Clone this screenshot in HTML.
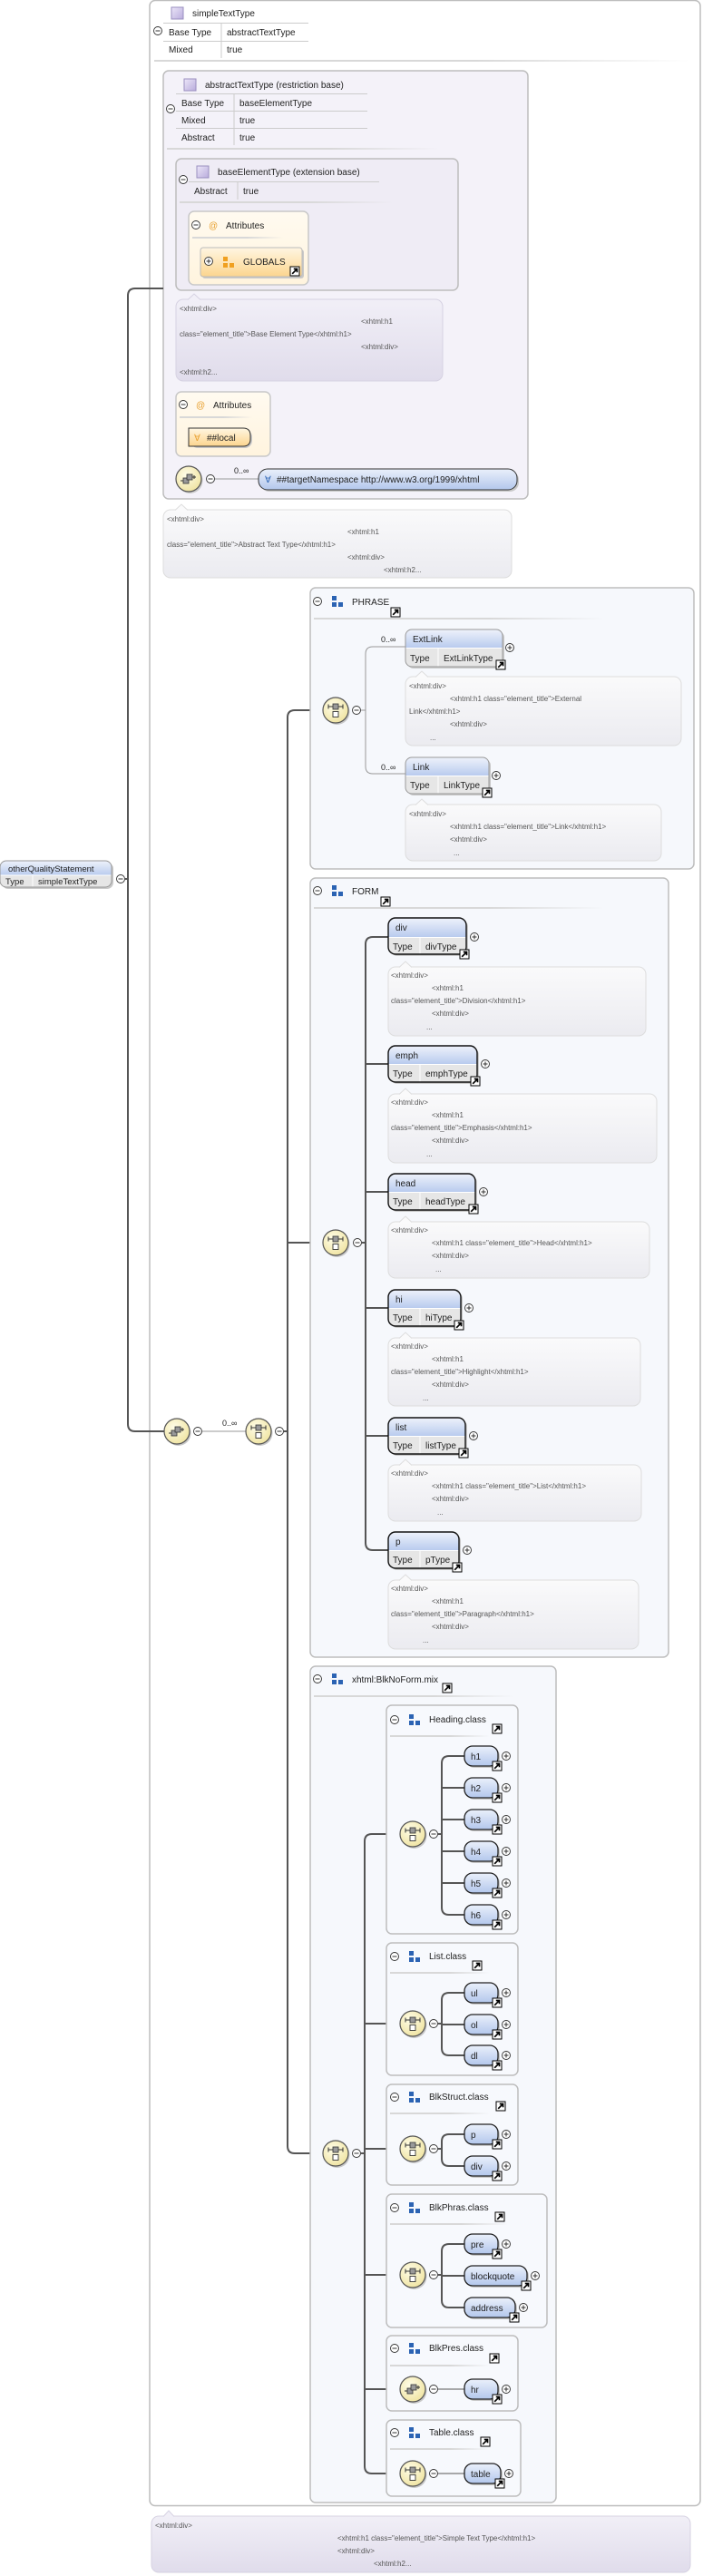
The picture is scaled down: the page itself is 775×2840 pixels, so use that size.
<!DOCTYPE html>
<html><head><meta charset="utf-8"><style>html,body{margin:0;padding:0;background:#fff}svg{display:block}</style></head>
<body>
<svg xmlns="http://www.w3.org/2000/svg" width="775" height="2840" viewBox="0 0 775 2840" font-family="Liberation Sans, Arial, sans-serif" font-size="10" fill="#222">
<defs>
<linearGradient id="hd" x1="0" y1="0" x2="0" y2="1"><stop offset="0" stop-color="#eef2fb"/><stop offset="1" stop-color="#b9cbee"/></linearGradient>
<linearGradient id="hs" x1="0" y1="0" x2="0" y2="1"><stop offset="0" stop-color="#eaf0fb"/><stop offset="1" stop-color="#b3c7ec"/></linearGradient>
<linearGradient id="org" x1="0" y1="0" x2="0" y2="1"><stop offset="0" stop-color="#fff6e2"/><stop offset="1" stop-color="#fcd58e"/></linearGradient>
<linearGradient id="atb" x1="0" y1="0" x2="0" y2="1"><stop offset="0" stop-color="#fffaf0"/><stop offset="1" stop-color="#fff4de"/></linearGradient>
<linearGradient id="doc" x1="0" y1="0" x2="0" y2="1"><stop offset="0" stop-color="#fafafb"/><stop offset="1" stop-color="#ebebf0"/></linearGradient>
<linearGradient id="docL" x1="0" y1="0" x2="0" y2="1"><stop offset="0" stop-color="#f1eff7"/><stop offset="1" stop-color="#e0dceb"/></linearGradient>
<linearGradient id="pur" x1="0" y1="0" x2="1" y2="1"><stop offset="0" stop-color="#ece6f8"/><stop offset="1" stop-color="#b9acdc"/></linearGradient>
<radialGradient id="cir" cx="0.4" cy="0.35" r="0.7"><stop offset="0" stop-color="#fffde8"/><stop offset="1" stop-color="#efe3a0"/></radialGradient>
<linearGradient id="sep" x1="0" y1="0" x2="1" y2="0"><stop offset="0" stop-color="#d8d8d8"/><stop offset="0.6" stop-color="#d8d8d8"/><stop offset="1" stop-color="#d8d8d8" stop-opacity="0"/></linearGradient>
<g id="mi"><circle r="4.5" fill="#fff" stroke="#333" stroke-width="0.9"/><path d="M-2.5,0H2.5" stroke="#333"/></g>
<g id="pl"><circle r="4.5" fill="#fff" stroke="#333" stroke-width="0.9"/><path d="M-2.5,0H2.5M0,-2.5V2.5" stroke="#333"/></g>
<g id="lk"><rect width="10" height="10" fill="#fff" stroke="#000"/><path d="M2.2,7.8L7.3,2.7M3.8,2.5H7.5V6.2" stroke="#000" stroke-width="1.7" fill="none"/></g>
<g id="sq"><circle cx="1.5" cy="2" r="14" fill="#c8c8c8"/><circle r="14" fill="url(#cir)" stroke="#555" stroke-width="1.2"/><path d="M-8,-4H8M-8,-6.5V-1.5M8,-6.5V-1.5" stroke="#333" fill="none"/><rect x="-3" y="-7" width="6" height="6" fill="#999" stroke="#333" stroke-width="0.8"/><rect x="-3" y="1.5" width="6" height="6" fill="#fff" stroke="#333" stroke-width="0.9"/></g>
<g id="an"><circle cx="1.5" cy="2" r="14" fill="#c8c8c8"/><circle r="14" fill="url(#cir)" stroke="#555" stroke-width="1.2"/><rect x="-6" y="-1" width="6" height="6" fill="#999" stroke="#333" stroke-width="0.8"/><rect x="-2" y="-5" width="6" height="6" fill="#999" stroke="#333" stroke-width="0.8"/><path d="M-9,2H-6M4,-2H8M6,-4V0" stroke="#333"/></g>
<g id="gi"><rect x="0" y="0" width="5" height="5" fill="#2b63b3"/><rect x="0" y="7" width="5" height="5" fill="#2b63b3"/><rect x="7" y="7" width="5" height="5" fill="#2b63b3"/></g>
<g id="go"><rect x="0" y="0" width="5" height="5" fill="#f0a020"/><rect x="0" y="7" width="5" height="5" fill="#f0a020"/><rect x="7" y="7" width="5" height="5" fill="#f0a020"/></g>
<g id="ti"><rect width="13" height="13" fill="url(#pur)" stroke="#9a8fc0"/></g>
</defs>

<!-- outer box -->
<rect x="165" y="0.5" width="607" height="2762" rx="6" fill="#fff" stroke="#bdbdbd" stroke-width="1.5"/>

<!-- simpleTextType header -->
<use href="#ti" x="189" y="8"/>
<text x="212" y="18">simpleTextType</text>
<use href="#mi" x="174" y="34"/>
<path d="M180,25.5H340M180,45.5H340M244,25V64" stroke="#ccc" fill="none"/>
<text x="186" y="39">Base Type</text><text x="250" y="39">abstractTextType</text>
<text x="186" y="58">Mixed</text><text x="250" y="58">true</text>
<rect x="170" y="66" width="590" height="2" fill="url(#sep)"/>

<!-- abstract box -->
<rect x="180" y="78" width="402" height="472" rx="6" fill="#f4f2f9" stroke="#bdbdbd" stroke-width="1.5"/>
<use href="#ti" x="203" y="87"/>
<text x="226" y="97">abstractTextType (restriction base)</text>
<use href="#mi" x="188" y="120"/>
<path d="M194,103.5H405M194,122.5H405M194,141.5H405M258,103V160" stroke="#ccc" fill="none"/>
<text x="200" y="117">Base Type</text><text x="264" y="117">baseElementType</text>
<text x="200" y="136">Mixed</text><text x="264" y="136">true</text>
<text x="200" y="155">Abstract</text><text x="264" y="155">true</text>
<rect x="184" y="163" width="300" height="2" fill="url(#sep)"/>

<!-- baseElementType box -->
<rect x="194" y="175" width="311" height="145" rx="6" fill="#efecf5" stroke="#bdbdbd" stroke-width="1.5"/>
<use href="#ti" x="217" y="183"/>
<text x="240" y="193">baseElementType (extension base)</text>
<use href="#mi" x="202" y="198"/>
<path d="M208,200.5H418M262,200V220" stroke="#ccc" fill="none"/>
<text x="214" y="214">Abstract</text><text x="268" y="214">true</text>
<rect x="198" y="222" width="235" height="2" fill="url(#sep)"/>

<rect x="208" y="233" width="132" height="81" rx="6" fill="url(#atb)" stroke="#c8c8c8" stroke-width="1.5"/>
<use href="#mi" x="216" y="248"/>
<text x="230" y="252" fill="#e8a030">@</text>
<text x="249" y="252">Attributes</text>
<rect x="212" y="261" width="100" height="2" fill="url(#sep)"/>
<rect x="223" y="275" width="112" height="32" rx="3" fill="#c8c8c8"/>
<rect x="221" y="273" width="112" height="32" rx="3" fill="url(#org)" stroke="#bbb"/>
<use href="#pl" x="230" y="288"/>
<use href="#go" x="246" y="283"/>
<text x="268" y="292">GLOBALS</text>
<use href="#lk" x="320" y="294"/>

<!-- doc 1 -->
<rect x="194" y="330" width="294" height="90" rx="8" fill="url(#docL)" stroke="#d6d2e2"/>
<path d="M207,330.5L214,324L221,330.5" fill="#f1eff7" stroke="#d6d2e2"/>
<g font-size="8" fill="#555">
<text x="198" y="343">&lt;xhtml:div&gt;</text>
<text x="398" y="357">&lt;xhtml:h1</text>
<text x="198" y="371">class="element_title"&gt;Base Element Type&lt;/xhtml:h1&gt;</text>
<text x="398" y="385">&lt;xhtml:div&gt;</text>
<text x="198" y="413">&lt;xhtml:h2...</text>
</g>

<!-- attributes 2 -->
<rect x="194" y="432" width="104" height="71" rx="6" fill="url(#atb)" stroke="#c8c8c8" stroke-width="1.5"/>
<use href="#mi" x="202" y="446"/>
<text x="216" y="450" fill="#e8a030">@</text>
<text x="235" y="450">Attributes</text>
<rect x="198" y="459" width="80" height="2" fill="url(#sep)"/>
<rect x="210" y="474" width="68" height="20" rx="8" fill="#c8c8c8"/>
<path d="M208,472H268Q276,472 276,480V484Q276,492 268,492H208Z" fill="url(#org)" stroke="#333"/>
<text x="214" y="486" fill="#e8a030">∀</text>
<text x="228" y="486">##local</text>

<!-- any ns -->
<use href="#an" x="208" y="528"/>
<use href="#mi" x="232" y="528"/>
<path d="M237,528H285" stroke="#999"/>
<text x="258" y="522" font-size="9">0..∞</text>
<rect x="287" y="519" width="285" height="23" rx="10" fill="#c8c8c8"/>
<rect x="285" y="517" width="285" height="23" rx="10" fill="url(#hs)" stroke="#333"/>
<text x="292" y="532" fill="#2b63b3">∀</text>
<text x="305" y="532">##targetNamespace http://www.w3.org/1999/xhtml</text>

<!-- doc 2 -->
<rect x="180" y="562" width="384" height="75" rx="8" fill="url(#doc)" stroke="#ddd"/>
<path d="M193,562.5L200,556L207,562.5" fill="#fafafb" stroke="#ddd"/>
<g font-size="8" fill="#555">
<text x="184" y="575">&lt;xhtml:div&gt;</text>
<text x="383" y="589">&lt;xhtml:h1</text>
<text x="184" y="603">class="element_title"&gt;Abstract Text Type&lt;/xhtml:h1&gt;</text>
<text x="383" y="617">&lt;xhtml:div&gt;</text>
<text x="423" y="631">&lt;xhtml:h2...</text>
</g>

<!-- left connectors -->
<path d="M138,969H141M180,318H149Q141,318 141,326V1570Q141,1578 149,1578H181" stroke="#555" stroke-width="2" fill="none"/>
<path d="M356,783H325Q317,783 317,791V2366Q317,2374 325,2374H356M317,1370H356M313,1578H317" stroke="#555" stroke-width="2" fill="none"/>

<!-- otherQualityStatement -->
<rect x="2" y="951" width="123" height="29" rx="7" fill="#c8c8c8"/>
<rect x="0" y="949" width="123" height="29" rx="7" fill="#e6e6e6"/>
<path d="M0,965V956Q0,949 7,949H116Q123,949 123,956V965Z" fill="url(#hd)"/>
<path d="M0,965H123M36,965V978" stroke="#fff"/>
<rect x="0" y="949" width="123" height="29" rx="7" fill="none" stroke="#999"/>
<text x="9" y="961" font-size="9.5">otherQualityStatement</text>
<text x="6" y="975" font-size="9.5">Type</text><text x="42" y="975" font-size="9.5">simpleTextType</text>
<use href="#mi" x="133" y="969"/>

<!-- any + seq -->
<use href="#an" x="195" y="1578"/>
<use href="#mi" x="218" y="1578"/>
<path d="M223,1578H271" stroke="#999"/>
<text x="245" y="1572" font-size="9">0..∞</text>
<use href="#sq" x="285" y="1578"/>
<use href="#mi" x="308" y="1578"/>

<!-- PHRASE -->
<rect x="342" y="648" width="423" height="310" rx="6" fill="#f6f8fc" stroke="#bdbdbd" stroke-width="1.5"/>
<use href="#mi" x="350" y="663"/>
<use href="#gi" x="366" y="657"/>
<text x="388" y="667">PHRASE</text>
<use href="#lk" x="431" y="670"/>
<rect x="346" y="681" width="320" height="2" fill="url(#sep)"/>
<use href="#sq" x="370" y="783"/>
<use href="#mi" x="393" y="783"/>
<path d="M398,783H403M447,713H411Q403,713 403,721V845Q403,853 411,853H447" stroke="#999" fill="none"/>
<text x="420" y="708" font-size="9">0..∞</text>
<text x="420" y="849" font-size="9">0..∞</text>

<!-- ExtLink -->
<rect x="449" y="696" width="107" height="41" rx="7" fill="#c8c8c8"/>
<rect x="447" y="694" width="107" height="41" rx="7" fill="#e6e6e6"/>
<path d="M447,714V701Q447,694 454,694H547Q554,694 554,701V714Z" fill="url(#hd)"/>
<path d="M447,714.5H554M483,714V735" stroke="#fff"/>
<rect x="447" y="694" width="107" height="41" rx="7" fill="none" stroke="#999"/>
<text x="455" y="708">ExtLink</text><text x="452" y="729">Type</text><text x="489" y="729">ExtLinkType</text>
<use href="#pl" x="562" y="714"/><use href="#lk" x="547" y="728"/>
<rect x="447" y="746" width="304" height="76" rx="8" fill="url(#doc)" stroke="#ddd"/>
<path d="M458,746.5L465,740L472,746.5" fill="#fafafb" stroke="#ddd"/>
<g font-size="8" fill="#555">
<text x="451" y="759">&lt;xhtml:div&gt;</text>
<text x="496" y="773">&lt;xhtml:h1 class="element_title"&gt;External</text>
<text x="451" y="787">Link&lt;/xhtml:h1&gt;</text>
<text x="496" y="801">&lt;xhtml:div&gt;</text>
<text x="474" y="816">...</text>
</g>

<!-- Link -->
<rect x="449" y="837" width="92" height="40" rx="7" fill="#c8c8c8"/>
<rect x="447" y="835" width="92" height="40" rx="7" fill="#e6e6e6"/>
<path d="M447,855V842Q447,835 454,835H532Q539,835 539,842V855Z" fill="url(#hd)"/>
<path d="M447,855.5H539M483,855V875" stroke="#fff"/>
<rect x="447" y="835" width="92" height="40" rx="7" fill="none" stroke="#999"/>
<text x="455" y="849">Link</text><text x="452" y="869">Type</text><text x="489" y="869">LinkType</text>
<use href="#pl" x="547" y="855"/><use href="#lk" x="532" y="869"/>
<rect x="447" y="887" width="282" height="62" rx="8" fill="url(#doc)" stroke="#ddd"/>
<path d="M458,887.5L465,881L472,887.5" fill="#fafafb" stroke="#ddd"/>
<g font-size="8" fill="#555">
<text x="451" y="900">&lt;xhtml:div&gt;</text>
<text x="496" y="914">&lt;xhtml:h1 class="element_title"&gt;Link&lt;/xhtml:h1&gt;</text>
<text x="496" y="928">&lt;xhtml:div&gt;</text>
<text x="500" y="943">...</text>
</g>

<!-- FORM -->
<rect x="342" y="968" width="395" height="859" rx="6" fill="#f6f8fc" stroke="#bdbdbd" stroke-width="1.5"/>
<use href="#mi" x="350" y="982"/>
<use href="#gi" x="366" y="976"/>
<text x="388" y="986">FORM</text>
<use href="#lk" x="420" y="989"/>
<rect x="346" y="1000" width="320" height="2" fill="url(#sep)"/>
<use href="#sq" x="370" y="1370"/>
<use href="#mi" x="394" y="1370"/>
<path d="M399,1370H403M428,1033H411Q403,1033 403,1041V1701Q403,1709 411,1709H428M403,1173H428M403,1314H428M403,1442H428M403,1583H428" stroke="#555" stroke-width="2" fill="none"/>

<!-- div -->
<rect x="430" y="1014" width="86" height="40" rx="8" fill="#c8c8c8"/>
<rect x="428" y="1012" width="86" height="40" rx="8" fill="#e6e6e6"/>
<path d="M428,1033V1020Q428,1012 436,1012H506Q514,1012 514,1020V1033Z" fill="url(#hd)"/>
<path d="M428,1033.5H514M463,1033V1052" stroke="#fff"/>
<rect x="428" y="1012" width="86" height="40" rx="8" fill="none" stroke="#111" stroke-width="1.4"/>
<text x="436" y="1026">div</text><text x="433" y="1047">Type</text><text x="469" y="1047">divType</text>
<use href="#pl" x="523" y="1033"/><use href="#lk" x="507" y="1047"/>
<rect x="428" y="1066" width="284" height="76" rx="8" fill="url(#doc)" stroke="#ddd"/>
<path d="M440,1066.5L447,1060L454,1066.5" fill="#fafafb" stroke="#ddd"/>
<g font-size="8" fill="#555">
<text x="431" y="1078">&lt;xhtml:div&gt;</text>
<text x="476" y="1092">&lt;xhtml:h1</text>
<text x="431" y="1106">class="element_title"&gt;Division&lt;/xhtml:h1&gt;</text>
<text x="476" y="1120">&lt;xhtml:div&gt;</text>
<text x="470" y="1135">...</text>
</g>

<!-- emph -->
<rect x="430" y="1155" width="98" height="40" rx="8" fill="#c8c8c8"/>
<rect x="428" y="1153" width="98" height="40" rx="8" fill="#e6e6e6"/>
<path d="M428,1173V1161Q428,1153 436,1153H518Q526,1153 526,1161V1173Z" fill="url(#hd)"/>
<path d="M428,1173.5H526M463,1173V1193" stroke="#fff"/>
<rect x="428" y="1153" width="98" height="40" rx="8" fill="none" stroke="#111" stroke-width="1.4"/>
<text x="436" y="1167">emph</text><text x="433" y="1187">Type</text><text x="469" y="1187">emphType</text>
<use href="#pl" x="535" y="1173"/><use href="#lk" x="519" y="1187"/>
<rect x="428" y="1206" width="296" height="76" rx="8" fill="url(#doc)" stroke="#ddd"/>
<path d="M440,1206.5L447,1200L454,1206.5" fill="#fafafb" stroke="#ddd"/>
<g font-size="8" fill="#555">
<text x="431" y="1218">&lt;xhtml:div&gt;</text>
<text x="476" y="1232">&lt;xhtml:h1</text>
<text x="431" y="1246">class="element_title"&gt;Emphasis&lt;/xhtml:h1&gt;</text>
<text x="476" y="1260">&lt;xhtml:div&gt;</text>
<text x="470" y="1275">...</text>
</g>

<!-- head -->
<rect x="430" y="1296" width="96" height="40" rx="8" fill="#c8c8c8"/>
<rect x="428" y="1294" width="96" height="40" rx="8" fill="#e6e6e6"/>
<path d="M428,1314V1302Q428,1294 436,1294H516Q524,1294 524,1302V1314Z" fill="url(#hd)"/>
<path d="M428,1314.5H524M463,1314V1334" stroke="#fff"/>
<rect x="428" y="1294" width="96" height="40" rx="8" fill="none" stroke="#111" stroke-width="1.4"/>
<text x="436" y="1308">head</text><text x="433" y="1328">Type</text><text x="469" y="1328">headType</text>
<use href="#pl" x="533" y="1314"/><use href="#lk" x="517" y="1328"/>
<rect x="428" y="1347" width="288" height="62" rx="8" fill="url(#doc)" stroke="#ddd"/>
<path d="M440,1347.5L447,1341L454,1347.5" fill="#fafafb" stroke="#ddd"/>
<g font-size="8" fill="#555">
<text x="431" y="1359">&lt;xhtml:div&gt;</text>
<text x="476" y="1373">&lt;xhtml:h1 class="element_title"&gt;Head&lt;/xhtml:h1&gt;</text>
<text x="476" y="1387">&lt;xhtml:div&gt;</text>
<text x="480" y="1402">...</text>
</g>

<!-- hi -->
<rect x="430" y="1424" width="80" height="40" rx="8" fill="#c8c8c8"/>
<rect x="428" y="1422" width="80" height="40" rx="8" fill="#e6e6e6"/>
<path d="M428,1442V1430Q428,1422 436,1422H500Q508,1422 508,1430V1442Z" fill="url(#hd)"/>
<path d="M428,1442.5H508M463,1442V1462" stroke="#fff"/>
<rect x="428" y="1422" width="80" height="40" rx="8" fill="none" stroke="#111" stroke-width="1.4"/>
<text x="436" y="1436">hi</text><text x="433" y="1456">Type</text><text x="469" y="1456">hiType</text>
<use href="#pl" x="517" y="1442"/><use href="#lk" x="501" y="1456"/>
<rect x="428" y="1475" width="278" height="75" rx="8" fill="url(#doc)" stroke="#ddd"/>
<path d="M440,1475.5L447,1469L454,1475.5" fill="#fafafb" stroke="#ddd"/>
<g font-size="8" fill="#555">
<text x="431" y="1487">&lt;xhtml:div&gt;</text>
<text x="476" y="1501">&lt;xhtml:h1</text>
<text x="431" y="1515">class="element_title"&gt;Highlight&lt;/xhtml:h1&gt;</text>
<text x="476" y="1529">&lt;xhtml:div&gt;</text>
<text x="466" y="1544">...</text>
</g>

<!-- list -->
<rect x="430" y="1565" width="85" height="40" rx="8" fill="#c8c8c8"/>
<rect x="428" y="1563" width="85" height="40" rx="8" fill="#e6e6e6"/>
<path d="M428,1583V1571Q428,1563 436,1563H505Q513,1563 513,1571V1583Z" fill="url(#hd)"/>
<path d="M428,1583.5H513M463,1583V1603" stroke="#fff"/>
<rect x="428" y="1563" width="85" height="40" rx="8" fill="none" stroke="#111" stroke-width="1.4"/>
<text x="436" y="1577">list</text><text x="433" y="1597">Type</text><text x="469" y="1597">listType</text>
<use href="#pl" x="522" y="1583"/><use href="#lk" x="506" y="1597"/>
<rect x="428" y="1615" width="279" height="62" rx="8" fill="url(#doc)" stroke="#ddd"/>
<path d="M440,1615.5L447,1609L454,1615.5" fill="#fafafb" stroke="#ddd"/>
<g font-size="8" fill="#555">
<text x="431" y="1627">&lt;xhtml:div&gt;</text>
<text x="476" y="1641">&lt;xhtml:h1 class="element_title"&gt;List&lt;/xhtml:h1&gt;</text>
<text x="476" y="1655">&lt;xhtml:div&gt;</text>
<text x="482" y="1670">...</text>
</g>

<!-- p -->
<rect x="430" y="1691" width="78" height="40" rx="8" fill="#c8c8c8"/>
<rect x="428" y="1689" width="78" height="40" rx="8" fill="#e6e6e6"/>
<path d="M428,1709V1697Q428,1689 436,1689H498Q506,1689 506,1697V1709Z" fill="url(#hd)"/>
<path d="M428,1709.5H506M463,1709V1729" stroke="#fff"/>
<rect x="428" y="1689" width="78" height="40" rx="8" fill="none" stroke="#111" stroke-width="1.4"/>
<text x="436" y="1703">p</text><text x="433" y="1723">Type</text><text x="469" y="1723">pType</text>
<use href="#pl" x="515" y="1709"/><use href="#lk" x="499" y="1723"/>
<rect x="428" y="1742" width="276" height="76" rx="8" fill="url(#doc)" stroke="#ddd"/>
<path d="M440,1742.5L447,1736L454,1742.5" fill="#fafafb" stroke="#ddd"/>
<g font-size="8" fill="#555">
<text x="431" y="1754">&lt;xhtml:div&gt;</text>
<text x="476" y="1768">&lt;xhtml:h1</text>
<text x="431" y="1782">class="element_title"&gt;Paragraph&lt;/xhtml:h1&gt;</text>
<text x="476" y="1796">&lt;xhtml:div&gt;</text>
<text x="466" y="1811">...</text>
</g>

<!-- BlkNoForm -->
<rect x="342" y="1837" width="271" height="922" rx="6" fill="#f6f8fc" stroke="#bdbdbd" stroke-width="1.5"/>
<use href="#mi" x="350" y="1851"/>
<use href="#gi" x="366" y="1845"/>
<text x="388" y="1855">xhtml:BlkNoForm.mix</text>
<use href="#lk" x="488" y="1856"/>
<rect x="346" y="1869" width="220" height="2" fill="url(#sep)"/>
<use href="#sq" x="370" y="2374"/>
<use href="#mi" x="393" y="2374"/>
<path d="M398,2374H402M441,2022H410Q402,2022 402,2030V2719Q402,2727 410,2727H441M402,2231H441M402,2369H441M402,2508H441M402,2634H441" stroke="#555" stroke-width="2" fill="none"/>

<!-- class boxes -->
<g stroke="#bdbdbd" stroke-width="1.5" fill="#f7f9fd">
<rect x="426" y="1880" width="145" height="252" rx="6"/>
<rect x="426" y="2142" width="145" height="146" rx="6"/>
<rect x="426" y="2298" width="145" height="111" rx="6"/>
<rect x="426" y="2419" width="177" height="147" rx="6"/>
<rect x="426" y="2575" width="145" height="83" rx="6"/>
<rect x="426" y="2668" width="148" height="84" rx="6"/>
</g>
<use href="#mi" x="435" y="1896"/><use href="#gi" x="451" y="1890"/><text x="473" y="1899">Heading.class</text><use href="#lk" x="543" y="1901"/><rect x="430" y="1913" width="110" height="2" fill="url(#sep)"/>
<use href="#mi" x="435" y="2157"/><use href="#gi" x="451" y="2151"/><text x="473" y="2160">List.class</text><use href="#lk" x="521" y="2162"/><rect x="430" y="2174" width="110" height="2" fill="url(#sep)"/>
<use href="#mi" x="435" y="2312"/><use href="#gi" x="451" y="2306"/><text x="473" y="2315">BlkStruct.class</text><use href="#lk" x="547" y="2317"/><rect x="430" y="2329" width="110" height="2" fill="url(#sep)"/>
<use href="#mi" x="435" y="2434"/><use href="#gi" x="451" y="2428"/><text x="473" y="2437">BlkPhras.class</text><use href="#lk" x="546" y="2439"/><rect x="430" y="2451" width="130" height="2" fill="url(#sep)"/>
<use href="#mi" x="435" y="2589"/><use href="#gi" x="451" y="2583"/><text x="473" y="2592">BlkPres.class</text><use href="#lk" x="540" y="2595"/><rect x="430" y="2607" width="110" height="2" fill="url(#sep)"/>
<use href="#mi" x="435" y="2682"/><use href="#gi" x="451" y="2676"/><text x="473" y="2685">Table.class</text><use href="#lk" x="530" y="2687"/><rect x="430" y="2699" width="110" height="2" fill="url(#sep)"/>

<!-- inner seq circles & branches -->
<use href="#sq" x="455" y="2022"/><use href="#mi" x="478" y="2022"/>
<use href="#sq" x="455" y="2231"/><use href="#mi" x="478" y="2231"/>
<use href="#sq" x="455" y="2369"/><use href="#mi" x="478" y="2369"/>
<use href="#sq" x="455" y="2508"/><use href="#mi" x="478" y="2508"/>
<use href="#an" x="455" y="2634"/><use href="#mi" x="478" y="2634"/>
<use href="#sq" x="455" y="2727"/><use href="#mi" x="478" y="2727"/>
<g stroke="#555" stroke-width="2" fill="none">
<path d="M483,2022H487M512,1936H495Q487,1936 487,1944V2103Q487,2111 495,2111H512M487,1971H512M487,2006H512M487,2041H512M487,2076H512"/>
<path d="M483,2231H487M512,2197H495Q487,2197 487,2205V2258Q487,2266 495,2266H512M487,2232H512"/>
<path d="M483,2369H487M512,2353H495Q487,2353 487,2361V2380Q487,2388 495,2388H512"/>
<path d="M483,2508H487M512,2474H495Q487,2474 487,2482V2536Q487,2544 495,2544H512M487,2509H512"/>
</g>
<path d="M483,2634H512M483,2727H512" stroke="#777" stroke-width="1.2"/>

<!-- small nodes -->
<g stroke="#222" stroke-width="1.3">
<rect x="514" y="1927" width="37" height="22" rx="9" fill="#c8c8c8" stroke="none"/><rect x="512" y="1925" width="37" height="22" rx="9" fill="url(#hs)"/>
<rect x="514" y="1962" width="37" height="22" rx="9" fill="#c8c8c8" stroke="none"/><rect x="512" y="1960" width="37" height="22" rx="9" fill="url(#hs)"/>
<rect x="514" y="1997" width="37" height="22" rx="9" fill="#c8c8c8" stroke="none"/><rect x="512" y="1995" width="37" height="22" rx="9" fill="url(#hs)"/>
<rect x="514" y="2032" width="37" height="22" rx="9" fill="#c8c8c8" stroke="none"/><rect x="512" y="2030" width="37" height="22" rx="9" fill="url(#hs)"/>
<rect x="514" y="2067" width="37" height="22" rx="9" fill="#c8c8c8" stroke="none"/><rect x="512" y="2065" width="37" height="22" rx="9" fill="url(#hs)"/>
<rect x="514" y="2102" width="37" height="22" rx="9" fill="#c8c8c8" stroke="none"/><rect x="512" y="2100" width="37" height="22" rx="9" fill="url(#hs)"/>
<rect x="514" y="2188" width="37" height="22" rx="9" fill="#c8c8c8" stroke="none"/><rect x="512" y="2186" width="37" height="22" rx="9" fill="url(#hs)"/>
<rect x="514" y="2223" width="37" height="22" rx="9" fill="#c8c8c8" stroke="none"/><rect x="512" y="2221" width="37" height="22" rx="9" fill="url(#hs)"/>
<rect x="514" y="2257" width="37" height="22" rx="9" fill="#c8c8c8" stroke="none"/><rect x="512" y="2255" width="37" height="22" rx="9" fill="url(#hs)"/>
<rect x="514" y="2344" width="37" height="22" rx="9" fill="#c8c8c8" stroke="none"/><rect x="512" y="2342" width="37" height="22" rx="9" fill="url(#hs)"/>
<rect x="514" y="2379" width="37" height="22" rx="9" fill="#c8c8c8" stroke="none"/><rect x="512" y="2377" width="37" height="22" rx="9" fill="url(#hs)"/>
<rect x="514" y="2465" width="37" height="22" rx="9" fill="#c8c8c8" stroke="none"/><rect x="512" y="2463" width="37" height="22" rx="9" fill="url(#hs)"/>
<rect x="514" y="2500" width="69" height="22" rx="9" fill="#c8c8c8" stroke="none"/><rect x="512" y="2498" width="69" height="22" rx="9" fill="url(#hs)"/>
<rect x="514" y="2535" width="56" height="22" rx="9" fill="#c8c8c8" stroke="none"/><rect x="512" y="2533" width="56" height="22" rx="9" fill="url(#hs)"/>
<rect x="514" y="2625" width="37" height="22" rx="9" fill="#c8c8c8" stroke="none"/><rect x="512" y="2623" width="37" height="22" rx="9" fill="url(#hs)"/>
<rect x="514" y="2718" width="40" height="22" rx="9" fill="#c8c8c8" stroke="none"/><rect x="512" y="2716" width="40" height="22" rx="9" fill="url(#hs)"/>
</g>
<text x="519" y="1940">h1</text><use href="#pl" x="558" y="1936"/><use href="#lk" x="543" y="1942"/>
<text x="519" y="1975">h2</text><use href="#pl" x="558" y="1971"/><use href="#lk" x="543" y="1977"/>
<text x="519" y="2010">h3</text><use href="#pl" x="558" y="2006"/><use href="#lk" x="543" y="2012"/>
<text x="519" y="2045">h4</text><use href="#pl" x="558" y="2041"/><use href="#lk" x="543" y="2047"/>
<text x="519" y="2080">h5</text><use href="#pl" x="558" y="2076"/><use href="#lk" x="543" y="2082"/>
<text x="519" y="2115">h6</text><use href="#pl" x="558" y="2111"/><use href="#lk" x="543" y="2117"/>
<text x="519" y="2201">ul</text><use href="#pl" x="558" y="2197"/><use href="#lk" x="543" y="2203"/>
<text x="519" y="2236">ol</text><use href="#pl" x="558" y="2232"/><use href="#lk" x="543" y="2238"/>
<text x="519" y="2270">dl</text><use href="#pl" x="558" y="2266"/><use href="#lk" x="543" y="2272"/>
<text x="519" y="2357">p</text><use href="#pl" x="558" y="2353"/><use href="#lk" x="543" y="2359"/>
<text x="519" y="2392">div</text><use href="#pl" x="558" y="2388"/><use href="#lk" x="543" y="2394"/>
<text x="519" y="2478">pre</text><use href="#pl" x="558" y="2474"/><use href="#lk" x="543" y="2480"/>
<text x="519" y="2513">blockquote</text><use href="#pl" x="590" y="2509"/><use href="#lk" x="575" y="2515"/>
<text x="519" y="2548">address</text><use href="#pl" x="577" y="2544"/><use href="#lk" x="562" y="2550"/>
<text x="519" y="2638">hr</text><use href="#pl" x="558" y="2634"/><use href="#lk" x="543" y="2640"/>
<text x="519" y="2731">table</text><use href="#pl" x="561" y="2727"/><use href="#lk" x="546" y="2733"/>

<!-- bottom doc -->
<rect x="167" y="2774" width="594" height="62" rx="8" fill="url(#docL)" stroke="#d6d2e2"/>
<path d="M180,2774.5L186,2768L192,2774.5" fill="#f1eff7" stroke="#d6d2e2"/>
<g font-size="8" fill="#555">
<text x="171" y="2787">&lt;xhtml:div&gt;</text>
<text x="372" y="2801">&lt;xhtml:h1 class="element_title"&gt;Simple Text Type&lt;/xhtml:h1&gt;</text>
<text x="372" y="2815">&lt;xhtml:div&gt;</text>
<text x="412" y="2829">&lt;xhtml:h2...</text>
</g>
</svg>
</body></html>
